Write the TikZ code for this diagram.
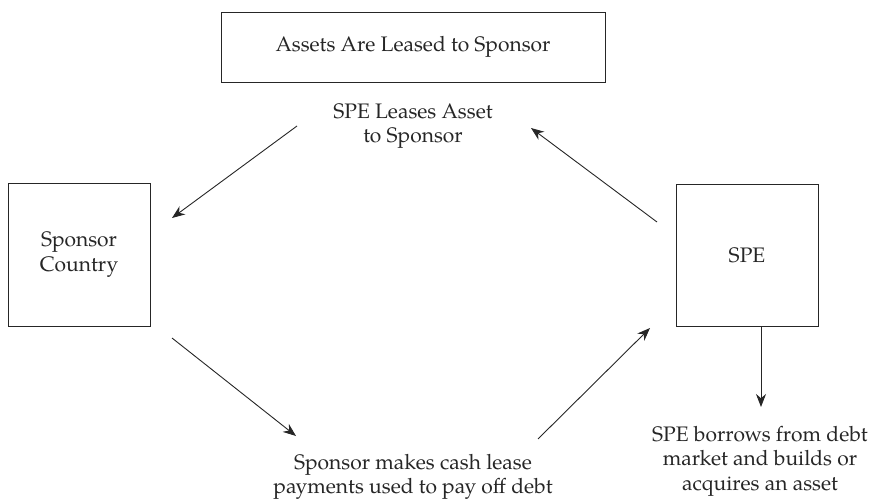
\documentclass[tikz,border=0pt]{standalone}
\usepackage{fontspec}
\setmainfont{TeX Gyre Pagella}
\usetikzlibrary{arrows.meta}
\tikzset{
  txt/.style={text=black!85, font=\fontsize{21}{24.5}\selectfont},
  box/.style={txt, draw=black!85, line width=0.9pt, inner sep=0pt},
  lbl/.style={txt, align=center, inner sep=0pt},
  flow/.style={draw=black!85, line width=0.9pt, -{Stealth[length=13pt,width=10pt]}}
}
\begin{document}
\begin{tikzpicture}[x=1pt, y=-1pt]
  \useasboundingbox (0,0) rectangle (873,500);

  % boxes
  \node[box, minimum width=384pt, minimum height=70pt] (lease) at (413,47) {Assets Are Leased to Sponsor};
  \node[box, minimum width=142pt, minimum height=143pt, align=center] (sponsor) at (79,254.5) {Sponsor\\Country};
  \node[box, minimum width=142pt, minimum height=142pt] (spe) at (747,255) {SPE};

  % text labels
  \node[lbl] (leaselbl) at (413,126) {SPE Leases Asset\\to Sponsor};
  \node[lbl] (paylbl) at (413,477) {Sponsor makes cash lease\\payments used to pay off debt};
  \node[lbl] (borrowlbl) at (760,461) {SPE borrows from debt\\market and builds or\\acquires an asset};

  % connector end points
  \coordinate (a1s) at (297,126);
  \coordinate (a1e) at (172,218);
  \coordinate (a2s) at (657,222);
  \coordinate (a2e) at (531,128);
  \coordinate (a3s) at (172,338);
  \coordinate (a3e) at (296,436);
  \coordinate (a4s) at (538,439);
  \coordinate (a4e) at (650,328);
  \coordinate (a5e) at (761,407);

  % connectors
  \draw[flow] (a1s) -- (a1e);
  \draw[flow] (a2s) -- (a2e);
  \draw[flow] (a3s) -- (a3e);
  \draw[flow] (a4s) -- (a4e);
  \draw[flow] (spe.south -| a5e) -- (a5e);
\end{tikzpicture}
\end{document}
